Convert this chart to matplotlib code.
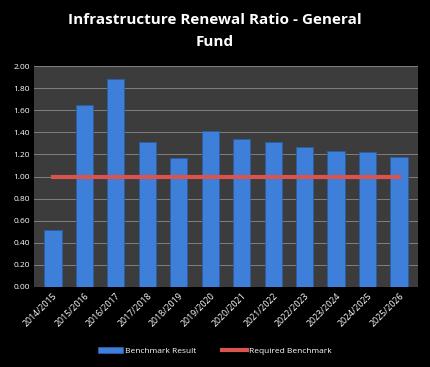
import matplotlib
matplotlib.use('Agg')
import matplotlib.pyplot as plt
import numpy as np

years = ['2014/2015', '2015/2016', '2016/2017', '2017/2018', '2018/2019', '2019/2020',
         '2020/2021', '2021/2022', '2022/2023', '2023/2024', '2024/2025', '2025/2026']
benchmark_result = [0.52, 1.65, 1.88, 1.31, 1.17, 1.41, 1.34, 1.31, 1.27, 1.23, 1.22, 1.18]
required_benchmark = [1.00] * len(years)
y_ticks = [0.0, 0.2, 0.4, 0.6, 0.8, 1.0, 1.2, 1.4, 1.6, 1.8, 2.0]

plt.rcParams['font.family'] = ['Open Sans', 'DejaVu Sans']

fig = plt.figure(figsize=(4.3, 3.67), dpi=100, facecolor='black')
ax = fig.add_axes([0.079, 0.218, 0.893, 0.602])
ax.set_facecolor('#3c3c3c')

x = np.arange(len(years))
bars = ax.bar(x, benchmark_result, width=0.55, color='#3d7fd9', edgecolor='#2a5ea8',
              linewidth=0.6, zorder=3, label='Benchmark Result')
line, = ax.plot(x, required_benchmark, color='#d9534f', linewidth=3, zorder=4,
                label='Required Benchmark')

ax.set_xlim(-0.6, len(years) - 0.4)
ax.set_ylim(0, 2.0)
ax.set_yticks(y_ticks)
ax.set_yticklabels(['%.2f' % v for v in y_ticks], color='white', fontsize=6)
ax.set_xticks(x)
ax.set_xticklabels(years, rotation=45, ha='right', rotation_mode='anchor',
                   color='white', fontsize=6.3)
ax.tick_params(length=0, pad=3)
ax.grid(axis='y', color='#8a8a8a', linewidth=0.6, zorder=1)
for s in ax.spines.values():
    s.set_visible(False)

fig.text(0.5, 0.915, 'Infrastructure Renewal Ratio - General\nFund', color='white',
         fontsize=11, fontweight='bold', ha='center', va='center', linespacing=1.75)

leg = fig.legend([bars, line], ['Benchmark Result', 'Required Benchmark'],
                 loc='center', bbox_to_anchor=(0.5, 0.043), ncol=2,
                 frameon=False, fontsize=6, handlelength=3, handleheight=0.6,
                 columnspacing=3, handletextpad=0.3)
for t in leg.get_texts():
    t.set_color('white')

fig.savefig('out.png', dpi=100, facecolor='black')
